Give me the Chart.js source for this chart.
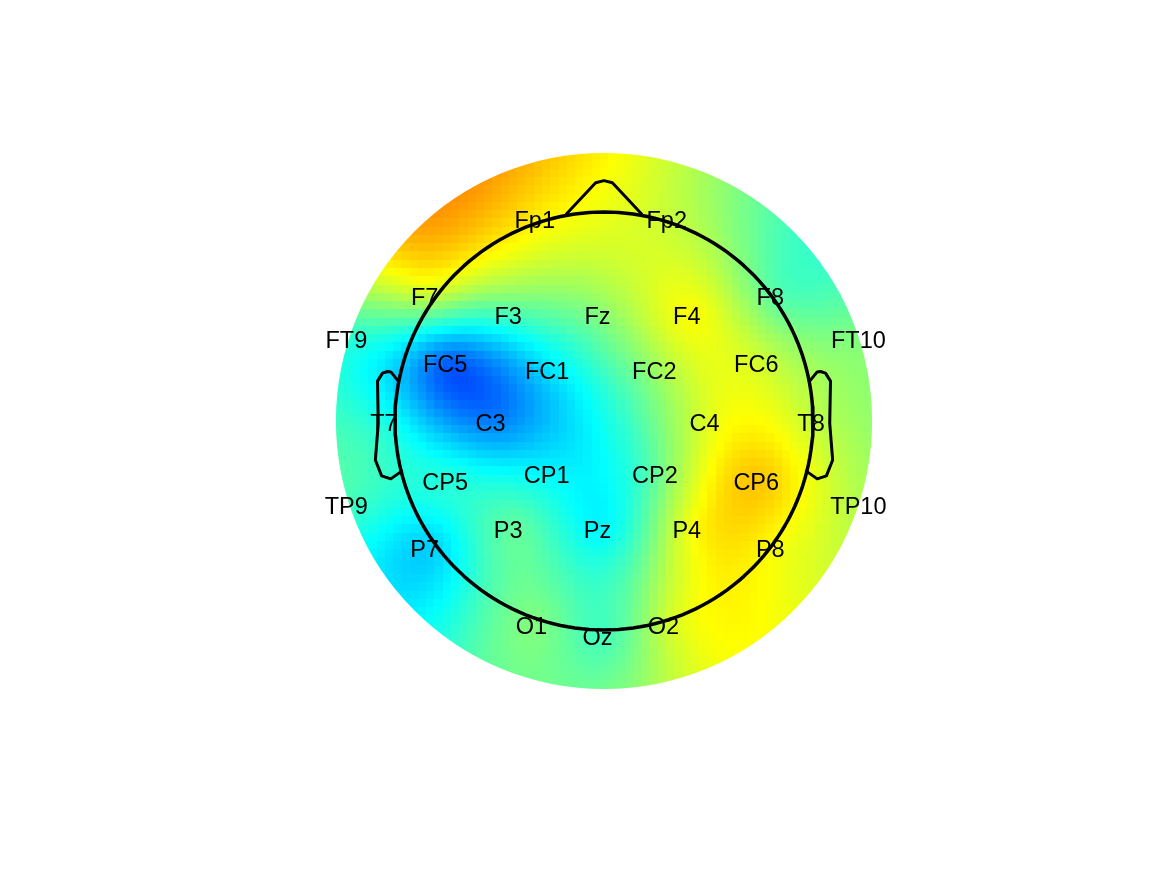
<!DOCTYPE html>
<html>
<head>
<meta charset="utf-8">
<script src="https://cdn.jsdelivr.net/npm/chart.js@4.4.1/dist/chart.umd.min.js"></script>
<style>
  html, body { margin: 0; padding: 0; background: #ffffff; }
  #wrap { width: 1167px; height: 875px; position: relative; }
</style>
</head>
<body>
<div id="wrap"><canvas id="topo" width="1167" height="875"></canvas></div>
<script>
// ---------------- DATA ----------------
// Channel labels (EEG 10-20 montage)
const channels = ['Fp1','Fp2','F7','F3','Fz','F4','F8','FT9','FT10','FC5','FC1','FC2','FC6',
                  'T7','C3','C4','T8','TP9','TP10','CP5','CP1','CP2','CP6',
                  'P7','P3','Pz','P4','P8','O1','Oz','O2'];
// Polar channel locations (degrees from nose, clockwise; radius with head edge = 0.5)
const theta  = [-18, 18, -54, -39.9, 0, 39.9, 54, -72, 72, -69.2, -46, 46, 69.2,
                -90, -90, 90, 90, -108, 108, -110.8, -134, 134, 110.8,
                -126, -140.1, 180, 140.1, 126, -162, 180, 162];
const radius = [0.511, 0.511, 0.511, 0.333, 0.256, 0.333, 0.511, 0.640, 0.640, 0.398, 0.178, 0.178, 0.398,
                0.511, 0.256, 0.256, 0.511, 0.640, 0.640, 0.398, 0.180, 0.180, 0.398,
                0.511, 0.333, 0.256, 0.333, 0.511, 0.511, 0.511, 0.511];
// Channel values (µV)
const values = [0.56, 0.28, 0.28, -0.20, 0.04, 0.48, -0.16, -0.32, 0.00, -1.12, -0.60, 0.12, 0.32,
                -0.44, -1.00, 0.40, 0.24, -0.24, 0.20, -0.36, -0.52, -0.08, 0.72,
                -0.68, -0.12, -0.52, 0.48, 0.48, 0.00, -0.24, 0.32];
// Colour limits of the jet map
const colorLimits = [-2, 2];
// Cartoon head (EEGLAB topoplot shapes, head radius 0.5)
const noseX = [0.09, 0.02, 0, -0.02, -0.09];
const noseY = [0.4954, 0.570, 0.575, 0.570, 0.4954];
const earX  = [0.492, 0.510, 0.518, 0.5299, 0.5419, 0.540, 0.547, 0.532, 0.510, 0.484];
const earY  = [0.0955, 0.1175, 0.1183, 0.1146, 0.0955, -0.0055, -0.0932, -0.1313, -0.1384, -0.1199];
// Interpolation settings
const gridScale = 67;
const plotRadius = 0.640 * 1.02;      // interpolation radius
const blankRing = 0.035;              // width of blanking ring (fraction)

// ---------------- HELPERS ----------------
function jet(v) {
  const c = t => Math.max(0, Math.min(1, t));
  const r = c(1.5 - Math.abs(4 * v - 3));
  const g = c(1.5 - Math.abs(4 * v - 2));
  const b = c(1.5 - Math.abs(4 * v - 1));
  return `rgb(${Math.round(r * 255)},${Math.round(g * 255)},${Math.round(b * 255)})`;
}

const chanX = theta.map((t, i) => radius[i] * Math.sin(t * Math.PI / 180));
const chanY = theta.map((t, i) => radius[i] * Math.cos(t * Math.PI / 180));

// biharmonic spline (MATLAB griddata 'v4')
function biharmonic(px, py, pz) {
  const n = px.length;
  const g = d => (d > 0 ? d * d * (Math.log(d) - 1) : 0);
  const A = [];
  for (let i = 0; i < n; i++) {
    A[i] = [];
    for (let j = 0; j < n; j++) A[i][j] = g(Math.hypot(px[i] - px[j], py[i] - py[j]));
    A[i][n] = pz[i];
  }
  for (let c = 0; c < n; c++) {
    let p = c;
    for (let r = c + 1; r < n; r++) if (Math.abs(A[r][c]) > Math.abs(A[p][c])) p = r;
    const tmp = A[c]; A[c] = A[p]; A[p] = tmp;
    for (let r = 0; r < n; r++) {
      if (r === c) continue;
      const f = A[r][c] / A[c][c];
      if (f === 0) continue;
      for (let k = c; k <= n; k++) A[r][k] -= f * A[c][k];
    }
  }
  const w = A.map((row, i) => row[n] / row[i]);
  return (x, y) => {
    let s = 0;
    for (let j = 0; j < n; j++) s += w[j] * g(Math.hypot(x - px[j], y - py[j]));
    return s;
  };
}

// ---------------- PLUGIN: interpolated map + labels ----------------
const topoPlugin = {
  id: 'topoMap',
  beforeDatasetsDraw(chart) {
    const xs = chart.scales.x, ys = chart.scales.y, ctx = chart.ctx;
    const sq = 0.5 / plotRadius;  // squeeze as in topoplot
    const f = biharmonic(chanX.map(v => v * sq), chanY.map(v => v * sq), values);
    const d = 2 * plotRadius / (gridScale - 1);
    const visR = plotRadius * (1 - blankRing / 2);
    ctx.save();
    ctx.beginPath();
    const cx = xs.getPixelForValue(0), cy = ys.getPixelForValue(0);
    ctx.arc(cx, cy, xs.getPixelForValue(visR) - cx, 0, Math.PI * 2);
    ctx.clip();
    for (let i = 0; i < gridScale; i++) {
      const gx = -plotRadius + i * d;
      for (let j = 0; j < gridScale; j++) {
        const gy = -plotRadius + j * d;
        if (Math.hypot(gx, gy) > plotRadius + d) continue;
        const val = f(gx * sq, gy * sq);
        const v = (val - colorLimits[0]) / (colorLimits[1] - colorLimits[0]);
        const x0 = Math.round(xs.getPixelForValue(gx - d / 2));
        const x1 = Math.round(xs.getPixelForValue(gx + d / 2));
        const y0 = Math.round(ys.getPixelForValue(gy + d / 2));
        const y1 = Math.round(ys.getPixelForValue(gy - d / 2));
        ctx.fillStyle = jet(v);
        ctx.fillRect(x0, y0, x1 - x0, y1 - y0);
      }
    }
    ctx.restore();
    // electrode labels (char-array padded, centred)
    const maxLen = Math.max(...channels.map(s => s.length));
    ctx.save();
    ctx.fillStyle = '#000';
    ctx.font = '23.5px "Liberation Sans", Arial, Helvetica, sans-serif';
    ctx.textAlign = 'center';
    ctx.textBaseline = 'middle';
    channels.forEach((lab, i) => {
      ctx.fillText(lab.padEnd(maxLen, ' '), xs.getPixelForValue(chanX[i]), ys.getPixelForValue(chanY[i]) + 3.5);
    });
    ctx.restore();
  }
};

// ---------------- OUTLINE DATASETS ----------------
const headCircle = [];
for (let a = 0; a <= 360; a += 2) {
  headCircle.push({ x: 0.5 * Math.sin(a * Math.PI / 180), y: 0.5 * Math.cos(a * Math.PI / 180) });
}
const nose = noseX.map((x, i) => ({ x, y: noseY[i] }));
const earRight = earX.map((x, i) => ({ x, y: earY[i] }));
const earLeft = earX.map((x, i) => ({ x: -x, y: earY[i] }));

const lineStyle = w => ({ showLine: true, pointRadius: 0, borderColor: '#000000', backgroundColor: '#000000',
  borderWidth: w, fill: false, tension: 0, borderJoinStyle: 'round', borderCapStyle: 'round' });

// pixel scale: 418 px per unit, head centre at (604, 421)
const pxPerUnit = 418, cX = 604, cY = 421, W = 1167, H = 875;

new Chart(document.getElementById('topo'), {
  type: 'scatter',
  data: {
    datasets: [
      Object.assign({ label: 'head', data: headCircle }, lineStyle(3.5)),
      Object.assign({ label: 'nose', data: nose }, lineStyle(3)),
      Object.assign({ label: 'earL', data: earLeft }, lineStyle(3)),
      Object.assign({ label: 'earR', data: earRight }, lineStyle(3))
    ]
  },
  options: {
    responsive: false,
    maintainAspectRatio: false,
    animation: false,
    events: [],
    layout: { padding: 0 },
    plugins: { legend: { display: false }, tooltip: { enabled: false }, title: { display: false } },
    scales: {
      x: { type: 'linear', display: false, bounds: 'data', min: -cX / pxPerUnit, max: (W - cX) / pxPerUnit },
      y: { type: 'linear', display: false, bounds: 'data', min: -(H - cY) / pxPerUnit, max: cY / pxPerUnit }
    }
  },
  plugins: [topoPlugin]
});
</script>
</body>
</html>
